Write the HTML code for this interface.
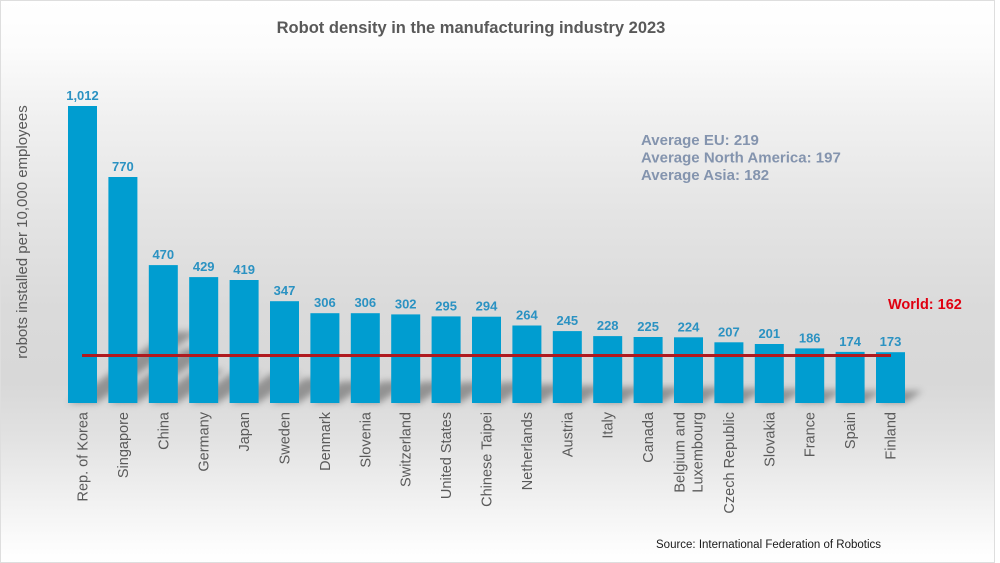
<!DOCTYPE html>
<html><head><meta charset="utf-8"><style>
html,body{margin:0;padding:0;background:#fff;}
svg{display:block;}
text{font-family:"Liberation Sans",Arial,sans-serif;}
</style></head><body>
<svg width="1000" height="563" viewBox="0 0 1000 563" xmlns="http://www.w3.org/2000/svg">
<defs>
<linearGradient id="bg" x1="0" y1="0" x2="0" y2="1">
<stop offset="0" stop-color="#ffffff"/>
<stop offset="0.08" stop-color="#fcfcfc"/>
<stop offset="0.2" stop-color="#f1f1f1"/>
<stop offset="0.38" stop-color="#e4e4e4"/>
<stop offset="0.55" stop-color="#dadada"/>
<stop offset="0.68" stop-color="#d8d8d8"/>
<stop offset="0.78" stop-color="#e2e2e2"/>
<stop offset="0.88" stop-color="#f0f0f0"/>
<stop offset="0.97" stop-color="#fcfcfc"/>
<stop offset="1" stop-color="#ffffff"/>
</linearGradient>
<filter id="blur" x="-20%" y="-20%" width="140%" height="140%"><feGaussianBlur stdDeviation="3.5"/></filter>
</defs>
<rect x="0" y="0" width="995" height="563" fill="url(#bg)"/>
<rect x="0.5" y="0.5" width="994" height="562" fill="none" stroke="#dedede" stroke-width="1"/>

<text x="471" y="33" text-anchor="middle" font-size="16.5" font-weight="bold" fill="#595959">Robot density in the manufacturing industry 2023</text>

<text transform="translate(22,232) rotate(-90)" text-anchor="middle" dy="5" font-size="15" fill="#595959">robots installed per 10,000 employees</text>

<g id="shadows" filter="url(#blur)" fill="#7a7a7a" opacity="0.75"></g>
<g id="bars" fill="#009dd0"></g>
<g id="vals" font-size="13" font-weight="bold" fill="#2b92c2" text-anchor="middle"></g>
<g id="cats" font-size="14.5" fill="#5a5a5a" text-anchor="end"></g>

<line x1="82" y1="355.5" x2="891" y2="355.5" stroke="#b01a1f" stroke-width="3"/>

<text x="888" y="309" font-size="14.5" font-weight="bold" fill="#e00010">World: 162</text>

<g font-size="15" font-weight="bold" fill="#8494ae">
<text x="641" y="145">Average EU: 219</text>
<text x="641" y="162.5">Average North America: 197</text>
<text x="641" y="180">Average Asia: 182</text>
</g>

<text x="656" y="548" font-size="11.5" fill="#1a1a1a">Source: International Federation of Robotics</text>
</svg>
<script>
(function(){
var ns="http://www.w3.org/2000/svg";
var vals=[1012,770,470,429,419,347,306,306,302,295,294,264,245,228,225,224,207,201,186,174,173];
var names=["Rep. of Korea","Singapore","China","Germany","Japan","Sweden","Denmark","Slovenia","Switzerland","United States","Chinese Taipei","Netherlands","Austria","Italy","Canada",["Belgium and","Luxembourg"],"Czech Republic","Slovakia","France","Spain","Finland"];
var labels=["1,012","770","470","429","419","347","306","306","302","295","294","264","245","228","225","224","207","201","186","174","173"];
var base=403, k=297/1012, w=29;
var gS=document.getElementById("shadows"),gB=document.getElementById("bars"),gV=document.getElementById("vals"),gC=document.getElementById("cats");
for(var i=0;i<vals.length;i++){
 var x0=68+40.4*i, h=vals[i]*k, top=base-h;
 var sx=0.34*h, sy=0.24*h;
 var p=document.createElementNS(ns,"polygon");
 p.setAttribute("points",x0+","+base+" "+(x0+w)+","+base+" "+(x0+w+sx)+","+(base-sy)+" "+(x0+sx)+","+(base-sy));
 gS.appendChild(p);
 var r=document.createElementNS(ns,"rect");
 r.setAttribute("x",x0.toFixed(1));r.setAttribute("y",top.toFixed(1));
 r.setAttribute("width",w);r.setAttribute("height",h.toFixed(1));
 gB.appendChild(r);
 var t=document.createElementNS(ns,"text");
 t.setAttribute("x",(x0+w/2).toFixed(1));t.setAttribute("y",(top-6).toFixed(1));
 t.textContent=labels[i];gV.appendChild(t);
 var cx=x0+w/2;
 var nm=names[i];
 if(typeof nm==="string"){
  var c=document.createElementNS(ns,"text");
  c.setAttribute("transform","translate("+cx.toFixed(1)+",412) rotate(-90)");
  c.setAttribute("dy","5");c.textContent=nm;gC.appendChild(c);
 } else {
  for(var j=0;j<2;j++){
   var c2=document.createElementNS(ns,"text");
   c2.setAttribute("transform","translate("+(cx-9+18*j).toFixed(1)+",412) rotate(-90)");
   c2.setAttribute("dy","5");c2.textContent=nm[j];gC.appendChild(c2);
  }
 }
}
})();
</script>
</body></html>
